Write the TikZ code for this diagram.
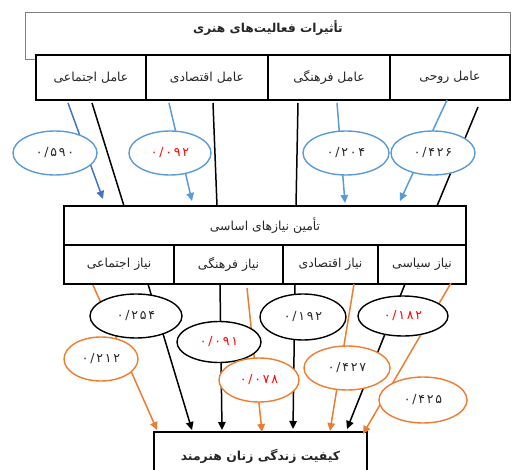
\documentclass[tikz,border=0pt]{standalone}
\usepackage{fontspec}
\newfontfamily\fa[Script=Arabic]{DejaVu Sans}
\newfontfamily\fanum[Script=Arabic,LetterSpace=14]{DejaVu Sans}
\TeXXeTstate=1
\usetikzlibrary{shapes.geometric,arrows.meta}
\definecolor{lblue}{HTML}{5B9BD5}
\definecolor{dblue}{HTML}{4472C4}
\definecolor{orng}{HTML}{ED7D31}
\definecolor{rd}{HTML}{FF0000}
\definecolor{gborder}{HTML}{7F7F7F}
\definecolor{txt}{HTML}{262626}
\begin{document}
\begin{tikzpicture}[x=1pt,y=-1pt,
  box/.style={draw=black,line width=1.5pt,fill=white,inner sep=0pt,text=txt,font=\fa\fontsize{12.4}{14}\selectfont},
  oval/.style={ellipse,fill=white,line width=1.4pt,inner sep=0pt,text=txt,font=\fanum\fontsize{12.5}{14}\selectfont},
  link/.style={line width=1.5pt},
  tip/.style={-{Triangle[length=8pt,width=7.5pt]}},
]
\useasboundingbox (0,0) rectangle (511,470);

% top box
\node[draw=gborder,line width=0.7pt,minimum width=485pt,minimum height=47pt,inner sep=0pt] (top) at (267.5,35.5) {};
\node[text=txt,font=\fa\fontsize{12.2}{14}\selectfont\bfseries] (title) at (268,28) {\beginR تأثیرات فعالیت^^^^200cهای هنری\endR};

% factor row
\node[box,minimum width=110pt,minimum height=45pt] (f1) at (91,77.5) {\beginR عامل اجتماعی\endR};
\node[box,minimum width=122pt,minimum height=45pt] (f2) at (207,77.5) {\beginR عامل اقتصادی\endR};
\node[box,minimum width=122pt,minimum height=45pt] (f3) at (329,77.5) {\beginR عامل فرهنگی\endR};
\node[box,minimum width=120pt,minimum height=45pt] (f4) at (450,77.5) {\beginR عامل روحی\endR};

% needs box
\node[box,minimum width=402pt,minimum height=39pt] (needs) at (265,225.5) {\beginR تأمین نیازهای اساسی\endR};
\node[box,minimum width=110pt,minimum height=39pt] (g1) at (119,264.5) {\beginR نیاز اجتماعی\endR};
\node[box,minimum width=109pt,minimum height=39pt] (g2) at (228.5,264.5) {\beginR نیاز فرهنگی\endR};
\node[box,minimum width=95pt,minimum height=39pt] (g3) at (330.5,264.5) {\beginR نیاز اقتصادی\endR};
\node[box,minimum width=88pt,minimum height=39pt] (g4) at (422,264.5) {\beginR نیاز سیاسی\endR};

% quality box
\node[box,minimum width=213pt,minimum height=48pt,font=\fa\fontsize{12.4}{14}\selectfont\bfseries] (q) at (260.5,456) {\raisebox{3pt}{\beginR کیفیت زندگی زنان هنرمند\endR}};

% connector end points (top section)
\coordinate (a1) at (68,103);  \coordinate (b1) at (103,199);
\coordinate (a2) at (92,103);  \coordinate (b2) at (124,206);
\coordinate (a3) at (169,103); \coordinate (b3) at (192,201);
\coordinate (a4) at (213,103); \coordinate (b4) at (217,206);
\coordinate (a5) at (298,103); \coordinate (b5) at (296,206);
\coordinate (a6) at (337,103); \coordinate (b6) at (345,203);
\coordinate (a7) at (447,100); \coordinate (b7) at (400,201);
\coordinate (a8) at (478,107); \coordinate (b8) at (437,206);

\draw[link,dblue,tip] (a1) -- (b1);
\draw[link,black] (a2) -- (b2);
\draw[link,lblue,tip] (a3) -- (b3);
\draw[link,black] (a4) -- (b4);
\draw[link,black] (a5) -- (b5);
\draw[link,lblue,tip] (a6) -- (b6);
\draw[link,lblue,tip] (a7) -- (b7);
\draw[link,black] (a8) -- (b8);

% connector end points (bottom section)
\coordinate (c1) at (148,284); \coordinate (d1) at (192,430);
\coordinate (c2) at (93,285);  \coordinate (d2) at (157,430);
\coordinate (c3) at (220,284); \coordinate (d3) at (222,430);
\coordinate (c4) at (247,288); \coordinate (d4) at (262,432);
\coordinate (c5) at (295,284); \coordinate (d5) at (293,429);
\coordinate (c6) at (354,284); \coordinate (d6) at (330,431);
\coordinate (c7) at (405,284); \coordinate (d7) at (347,429);
\coordinate (c8) at (451,283); \coordinate (d8) at (363,434);

\draw[link,black,tip] (c1) -- (d1);
\draw[link,orng,tip] (c2) -- (d2);
\draw[link,black,tip] (c3) -- (d3);
\draw[link,orng,tip] (c4) -- (d4);
\draw[link,black,tip] (c5) -- (d5);
\draw[link,orng,tip] (c6) -- (d6);
\draw[link,black,tip] (c7) -- (d7);
\draw[link,orng,tip] (c8) -- (d8);

% coefficient ovals (top)
\node[oval,draw=lblue,minimum width=84pt,minimum height=44pt] (e1) at (55,153) {۰/۵۹۰};
\node[oval,draw=lblue,minimum width=82pt,minimum height=44pt,text=rd] (e2) at (170,153) {۰/۰۹۲};
\node[oval,draw=lblue,minimum width=86pt,minimum height=44pt] (e3) at (346,153) {۰/۲۰۴};
\node[oval,draw=lblue,minimum width=84pt,minimum height=44pt] (e4) at (433,153) {۰/۴۲۶};

% coefficient ovals (bottom)
\node[oval,draw=black,minimum width=92pt,minimum height=44pt] (e5) at (136,316) {۰/۲۵۴};
\node[oval,draw=orng,minimum width=74pt,minimum height=44pt] (e6) at (101,359) {۰/۲۱۲};
\node[oval,draw=black,minimum width=84pt,minimum height=41pt,text=rd] (e7) at (219,342) {۰/۰۹۱};
\node[oval,draw=orng,minimum width=80pt,minimum height=44pt,text=rd] (e8) at (259,380) {۰/۰۷۸};
\node[oval,draw=black,minimum width=86pt,minimum height=46pt] (e9) at (303,317) {۰/۱۹۲};
\node[oval,draw=orng,minimum width=86pt,minimum height=44pt] (e10) at (347,368) {۰/۴۲۷};
\node[oval,draw=black,minimum width=90pt,minimum height=40pt,text=rd] (e11) at (403,316) {۰/۱۸۲};
\node[oval,draw=orng,minimum width=88pt,minimum height=46pt] (e12) at (423,400) {۰/۴۲۵};
\end{tikzpicture}
\end{document}
